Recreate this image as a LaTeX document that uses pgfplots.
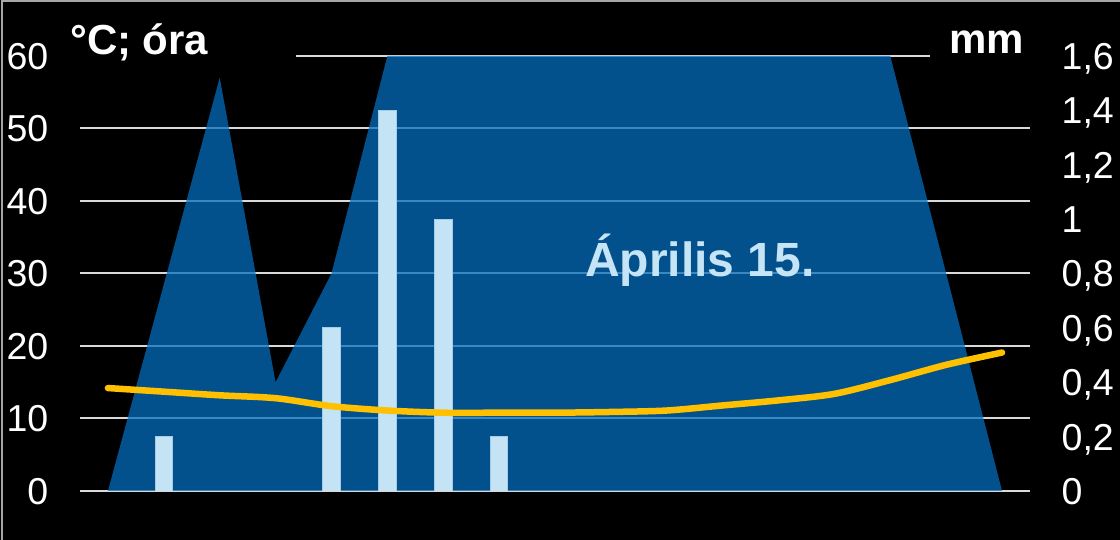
\documentclass[border=0pt]{standalone}
\usepackage{fontspec}
\setmainfont{Liberation Sans}
\usepackage{pgfplots}
\pgfplotsset{compat=1.18}
\definecolor{areablue}{RGB}{3,109,189}
\definecolor{barblue}{RGB}{196,228,245}
\definecolor{baredge}{RGB}{165,205,230}
\definecolor{tempyellow}{RGB}{255,192,0}
\definecolor{gridgray}{RGB}{217,217,217}
\definecolor{labelblue}{RGB}{197,228,245}

\pgfplotsset{
  base/.style={
    scale only axis, width=950pt, height=435pt,
    at={(80pt,49pt)}, anchor=south west,
    xmin=-0.5, xmax=16.5,
    axis line style={draw=none},
    major tick length=0pt,
    xtick=\empty,
    tick label style={font=\fontsize{37.5}{37.5}\selectfont, text=white, inner sep=0pt},
  }
}

\begin{document}
\begin{tikzpicture}[x=1pt,y=1pt]
\useasboundingbox (0,0) rectangle (1120,540);
\fill[black] (0,0) rectangle (1120,540);
\draw[gray!70, line width=1.5pt] (2,0) -- (2,539.2) -- (1120,539.2);

% left axis: grid + area
\begin{axis}[base,
  ymin=0, ymax=60,
  ytick={0,10,20,30,40,50,60},
  yticklabels={0,10,20,30,40,50,60},
  ymajorgrids, grid style={gridgray, line width=2pt},
  yticklabel style={anchor=base east, xshift=-31.5pt, yshift=-13.4pt},
]
\addplot[fill=areablue, fill opacity=0.75, draw=none] coordinates {
(0,0) (1,28.5) (2,57) (3,15) (4,30) (5,60) (6,60) (7,60) (8,60) (9,60)
(10,60) (11,60) (12,60) (13,60) (14,60) (15,30) (16,0)
} \closedcycle;
\end{axis}

% right axis: precipitation bars
\begin{axis}[base,
  ymin=0, ymax=1.6,
  axis y line*=right,
  ytick={0,0.2,0.4,0.6,0.8,1,1.2,1.4,1.6},
  yticklabels={0,{0,2},{0,4},{0,6},{0,8},1,{1,2},{1,4},{1,6}},
  yticklabel style={anchor=base west, xshift=31.5pt, yshift=-13.4pt},
]
\addplot[ybar, bar width=17.4pt, fill=barblue, draw=baredge, line width=0.8pt] coordinates {
(1,0.2) (4,0.6) (5,1.4) (6,1.0) (7,0.2)
};
\end{axis}

% left axis again: temperature line
\begin{axis}[base, hide axis, ymin=0, ymax=60]
\addplot[tempyellow, line width=6.5pt, line cap=round, smooth, tension=0.5] coordinates {
(0,14.2) (1,13.7) (2,13.2) (3,12.8) (4,11.7) (5,11.1) (6,10.8) (7,10.8) (8,10.8)
(9,10.9) (10,11.1) (11,11.8) (12,12.5) (13,13.4) (14,15.3) (15,17.4) (16,19.1)
};
\end{axis}

\fill[black] (80,477) rectangle (296,492);
\fill[black] (930,477) rectangle (1032,492);
\node[anchor=base west, inner sep=0pt, text=white, font=\bfseries\fontsize{42}{42}\selectfont] at (70,485) {°C; óra};
\node[anchor=base east, inner sep=0pt, text=white, font=\bfseries\fontsize{42}{42}\selectfont] at (1024,486) {mm};
\node[anchor=base, inner sep=0pt, text=labelblue, font=\bfseries\fontsize{48}{48}\selectfont] at (700,263) {Április 15.};
\end{tikzpicture}
\end{document}
